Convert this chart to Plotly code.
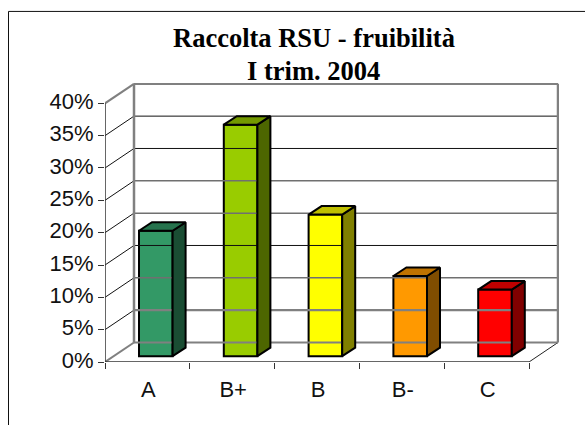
import plotly.graph_objects as go

categories = ["A", "B+", "B", "B-", "C"]
values = [19.4, 35.8, 21.9, 12.4, 10.3]
front_colors = ["#339966", "#99CC00", "#FFFF00", "#FF9900", "#FF0000"]
top_colors = ["#26734D", "#739900", "#BFBF00", "#BF7300", "#BF0000"]
side_colors = ["#1A4D33", "#4D6600", "#808000", "#804D00", "#800000"]
y_ticks = [0, 5, 10, 15, 20, 25, 30, 35, 40]
y_tick_labels = ["0%", "5%", "10%", "15%", "20%", "25%", "30%", "35%", "40%"]
grid_colors = ["#808080", "#808080", "#707070", "#111111", "#707070", "#707070", "#111111", "#111111", "#808080"]
grid_widths = [2.2, 2.2, 1.5, 1, 1.5, 1.5, 1, 1, 2.2]

W, H = 585, 425
PX_LEFT, PX_RIGHT, PX_BOTTOM, PX_TOP = 105, 559, 361.7, 83
PX_PER_CAT = 84.8
PX_PER_PCT = 258.4 / 40
xmin = -0.5
xmax = xmin + (PX_RIGHT - PX_LEFT) / PX_PER_CAT
ymax = (PX_BOTTOM - PX_TOP) / PX_PER_PCT

wall_dx = 29 / PX_PER_CAT
wall_dy = 19.5 / PX_PER_PCT
bar_left = -0.5 + 34 / PX_PER_CAT
bar_width = 33.6 / PX_PER_CAT
bar_base = 5.8 / PX_PER_PCT
bar_dx = 13 / PX_PER_CAT
bar_dy = 8.5 / PX_PER_PCT
positions = list(range(len(categories)))
boundaries = [p - 0.5 for p in positions] + [positions[-1] + 0.5]

fig = go.Figure()


def line(xs, ys, color, width):
    fig.add_trace(go.Scatter(x=xs, y=ys, mode="lines", line=dict(color=color, width=width),
                             hoverinfo="skip", showlegend=False, cliponaxis=False))


def face(xs, ys, color):
    fig.add_trace(go.Scatter(x=xs, y=ys, mode="lines", fill="toself", fillcolor=color,
                             line=dict(color="#000000", width=2), hoverinfo="skip",
                             showlegend=False, cliponaxis=False))


right_front = boundaries[-1]
right_back = right_front + wall_dx
left_back = xmin + wall_dx

# Floor edge, back wall and side wall
line([right_front, right_back], [0, wall_dy], "#222222", 1)
for tick, color, width in zip(y_ticks, grid_colors, grid_widths):
    diag = "#808080" if tick in (0, 40) else "#111111"
    line([xmin, left_back], [tick, tick + wall_dy], diag, 2 if tick in (0, 40) else 1)
    line([left_back, right_back], [tick + wall_dy, tick + wall_dy], color, width)
line([left_back, left_back], [wall_dy, 40 + wall_dy], "#808080", 2.5)
line([right_back, right_back], [wall_dy, 40 + wall_dy], "#808080", 2.5)

# Bar side and top faces, drawn from the values
for i, v in zip(positions, values):
    x0 = i + bar_left
    x1 = x0 + bar_width
    top = bar_base + v
    face([x1, x1 + bar_dx, x1 + bar_dx, x1, x1], [bar_base, bar_base + bar_dy, top + bar_dy, top, bar_base], side_colors[i])
    face([x0, x0 + bar_dx, x1 + bar_dx, x1, x0], [top, top + bar_dy, top + bar_dy, top, top], top_colors[i])

# Bar fronts
fig.add_trace(go.Bar(x=positions, y=values, base=bar_base, width=bar_width, offset=bar_left,
                     marker=dict(color=front_colors, line=dict(color="#000000", width=2)),
                     showlegend=False, cliponaxis=False))

# Front axis lines
line([xmin, xmin], [0, 40], "#333333", 1.5)
line([xmin, right_front], [0, 0], "#333333", 1.5)

fig.update_layout(
    width=W, height=H,
    autosize=False,
    margin=dict(l=PX_LEFT, r=W - PX_RIGHT, t=PX_TOP, b=H - PX_BOTTOM, pad=0),
    paper_bgcolor="#FFFFFF", plot_bgcolor="#FFFFFF",
    font=dict(family="Liberation Sans", size=22, color="#000000"),
    xaxis=dict(range=[xmin, xmax], tickvals=positions, ticktext=categories,
               showgrid=False, showline=False, zeroline=False, ticks="", ticklabelstandoff=12,
               ticklabelshift=1,
               minor=dict(tickvals=boundaries, ticks="outside", ticklen=6, tickcolor="#333333",
                          tickwidth=1, showgrid=False),
               tickfont=dict(size=22, family="Liberation Sans", color="#111111")),
    yaxis=dict(range=[0, ymax], tickvals=y_ticks, ticktext=y_tick_labels,
               showgrid=False, showline=False, zeroline=False,
               ticks="outside", ticklen=6, tickcolor="#333333", tickwidth=1,
               ticklabelshift=-2,
               tickfont=dict(size=22, family="Liberation Sans", color="#111111")),
    annotations=[
        dict(text="<b>Raccolta RSU - fruibilità</b>", xref="paper", yref="paper", x=(313.5 - PX_LEFT) / (PX_RIGHT - PX_LEFT),
             y=1 + (PX_TOP - 38) / (PX_BOTTOM - PX_TOP), showarrow=False, xanchor="center", yanchor="middle",
             font=dict(family="Liberation Serif", size=26.5)),
        dict(text="<b>I trim. 2004</b>", xref="paper", yref="paper", x=(313.5 - PX_LEFT) / (PX_RIGHT - PX_LEFT),
             y=1 + (PX_TOP - 71) / (PX_BOTTOM - PX_TOP), showarrow=False, xanchor="center", yanchor="middle",
             font=dict(family="Liberation Serif", size=26.5)),
    ],
    shapes=[
        dict(type="line", xref="paper", yref="paper",
             x0=(8.5 - PX_LEFT) / (PX_RIGHT - PX_LEFT), x1=(8.5 - PX_LEFT) / (PX_RIGHT - PX_LEFT),
             y0=(PX_BOTTOM - 425) / (PX_BOTTOM - PX_TOP), y1=(PX_BOTTOM - 11.5) / (PX_BOTTOM - PX_TOP),
             line=dict(color="#111111", width=1)),
        dict(type="line", xref="paper", yref="paper",
             x0=(8.5 - PX_LEFT) / (PX_RIGHT - PX_LEFT), x1=(585 - PX_LEFT) / (PX_RIGHT - PX_LEFT),
             y0=(PX_BOTTOM - 11.5) / (PX_BOTTOM - PX_TOP), y1=(PX_BOTTOM - 11.5) / (PX_BOTTOM - PX_TOP),
             line=dict(color="#111111", width=1)),
    ],
)

fig.write_html("out.html", config={"displayModeBar": False},
               post_script="document.body.style.margin='0';document.body.style.overflow='hidden';")
